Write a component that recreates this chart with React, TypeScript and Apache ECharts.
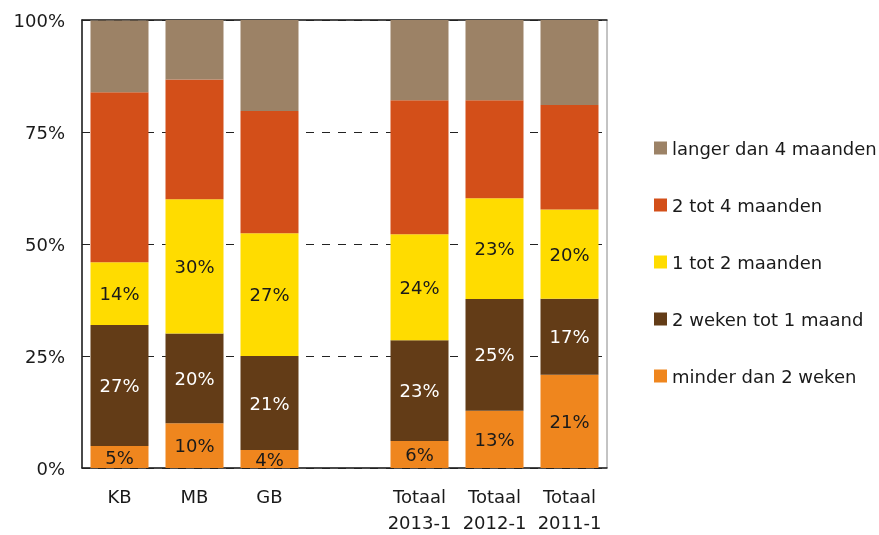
import React, { useEffect, useRef } from "react";
import * as echarts from "echarts";

const categories = ["KB", "MB", "GB", "", "Totaal\n2013-1", "Totaal\n2012-1", "Totaal\n2011-1"];
const seriesNames = [
  "minder dan 2 weken",
  "2 weken tot 1 maand",
  "1 tot 2 maanden",
  "2 tot 4 maanden",
  "langer dan 4 maanden",
];
const minderDan2Weken = [4.9, 10, 4, null, 6, 12.8, 20.8];
const tweeWekenTot1Maand = [27, 20, 21, null, 22.5, 24.9, 17];
const eenTot2Maanden = [14, 30, 27.4, null, 23.7, 22.5, 19.9];
const tweeTot4Maanden = [38, 26.7, 27.3, null, 29.9, 21.9, 23.3];
const langerDan4Maanden = [16, 13.3, 20.3, null, 17.9, 17.9, 19];
const yTicks = [0, 25, 50, 75, 100];

const colors = ["#ef861e", "#633c17", "#ffdc00", "#d34f19", "#9c8266"];
const labelColors = ["#1a1a1a", "#ffffff", "#1a1a1a", null, null];
const FONT = "DejaVu Sans";
const FS = 18;

export default function App() {
  const ref = useRef<HTMLDivElement>(null);
  useEffect(() => {
    if (!ref.current) return;
    const chart = echarts.init(ref.current, undefined, { renderer: "svg" });
    const data = [minderDan2Weken, tweeWekenTot1Maand, eenTot2Maanden, tweeTot4Maanden, langerDan4Maanden];
    chart.setOption({
      animation: false,
      textStyle: { fontFamily: FONT },
      grid: { left: 82, top: 20, width: 525, height: 452, show: true, borderColor: "#888", borderWidth: 1 },
      legend: {
        orient: "vertical",
        left: 649,
        top: 134,
        itemWidth: 13,
        itemHeight: 13,
        itemGap: 39,
        icon: "rect",
        data: [...seriesNames].reverse(),
        textStyle: { fontFamily: FONT, fontSize: FS, color: "#1a1a1a" },
      },
      xAxis: [
        {
          type: "category",
          data: categories,
          axisLine: { lineStyle: { color: "#222", width: 1.5 } },
          axisTick: { show: false },
          axisLabel: { fontFamily: FONT, fontSize: FS, color: "#1a1a1a", margin: 15, lineHeight: 26, interval: 0 },
        },
        {
          type: "category",
          data: categories,
          position: "top",
          axisLine: { lineStyle: { color: "#222", width: 1.5 } },
          axisTick: { show: false },
          axisLabel: { show: false },
        },
      ],
      yAxis: {
        type: "value",
        min: 0,
        max: 100,
        interval: 25,
        axisLine: { show: true, lineStyle: { color: "#222", width: 1.5 } },
        axisTick: { show: false },
        splitLine: { lineStyle: { color: "#222", type: [8, 8], width: 1 } },
        axisLabel: {
          fontFamily: FONT,
          fontSize: FS,
          color: "#1a1a1a",
          margin: 17,
          formatter: (v: number) => (yTicks.includes(v) ? v + "%" : ""),
        },
      },
      series: seriesNames.map((name, i) => ({
        name,
        type: "bar",
        stack: "total",
        barWidth: 58,
        data: data[i],
        itemStyle: { color: colors[i] },
        label: labelColors[i]
          ? {
              show: true,
              position: "inside",
              fontFamily: FONT,
              fontSize: FS,
              color: labelColors[i],
              formatter: (p: any) => Math.round(p.value) + "%",
            }
          : { show: false },
      })),
    });
    return () => chart.dispose();
  }, []);
  return <div ref={ref} style={{ position: "fixed", left: 0, top: 0, width: 879, height: 535 }} />;
}
